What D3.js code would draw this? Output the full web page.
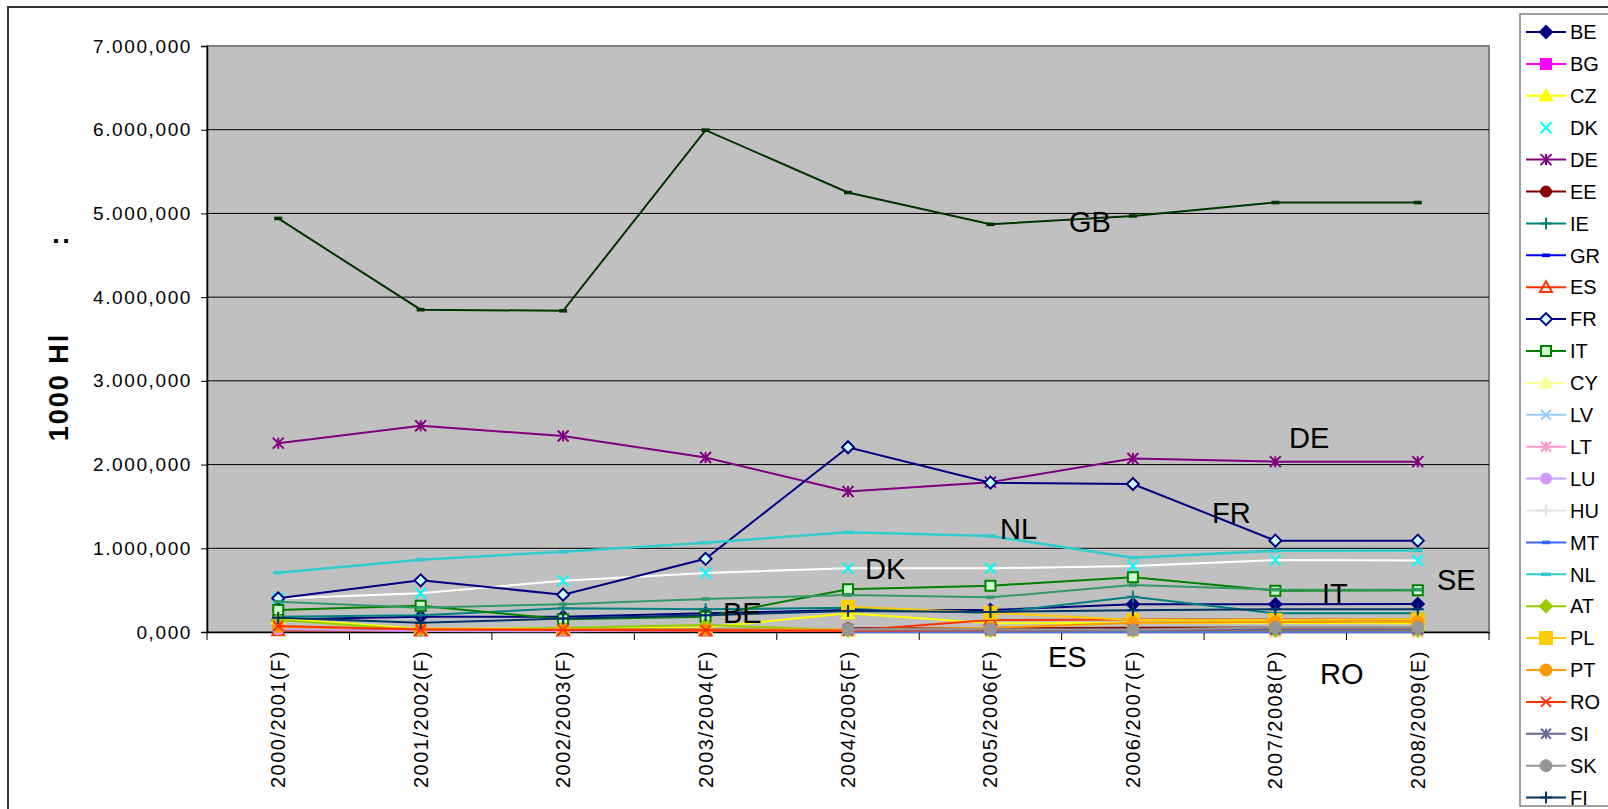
<!DOCTYPE html>
<html lang="en">
<head>
<meta charset="utf-8">
<script src="https://d3js.org/d3.v7.min.js"></script>
<style>
	body { margin: 0; background: #fff; }
	text { font-family: Arial, "Liberation Sans", sans-serif; }
</style>
</head>
<body>
<script type="text/javascript">

	// x categories (marketing years) and y ticks, in 1000 hl
	var categories = ["2000/2001(F)", "2001/2002(F)", "2002/2003(F)", "2003/2004(F)", "2004/2005(F)",
		"2005/2006(F)", "2006/2007(F)", "2007/2008(P)", "2008/2009(E)"];
	var yTicks = [0, 1000, 2000, 3000, 4000, 5000, 6000, 7000];

	// series values (null = no value)
	var BE = [150, 183, 183, 223, 263, 263, 331, 331, 335];
	var BG = [null, null, null, null, null, null, null, 10, 10];
	var CZ = [160, 40, 45, 55, 223, 104, 111, 111, 104];
	var DK = [400, 462, 613, 705, 761, 761, 788, 860, 855];
	var DE = [2256, 2464, 2342, 2084, 1678, 1790, 2072, 2035, 2035];
	var EE = [null, null, null, null, 44, 44, 50, 55, 55];
	var IE = [183, 200, 283, 271, 290, 223, 422, 223, 223];
	var GR = [25, 20, 30, 30, 20, 20, 20, 20, 20];
	var ES = [20, 15, 15, 15, 15, 143, 150, 150, 150];
	var FR = [402, 617, 446, 874, 2207, 1784, 1768, 1091, 1091];
	var IT = [263, 315, 151, 183, 510, 553, 653, 494, 500];
	var CY = [null, null, null, null, 5, 5, 5, 5, 5];
	var LV = [null, null, null, null, 8, 8, 8, 8, 8];
	var LT = [null, null, null, null, 10, 10, 10, 10, 10];
	var LU = [32, 12, 8, 20, 15, 15, 15, 15, 15];
	var HU = [null, null, null, null, 12, 12, 12, 12, 12];
	var MT = [null, null, null, null, 3, 3, 3, 3, 3];
	var NL = [708, 864, 959, 1067, 1191, 1147, 888, 971, 975];
	var AT = [143, 24, 50, 84, 20, 20, 20, 20, 20];
	var PL = [null, null, null, null, 302, 231, 143, 143, 151];
	var PT = [60, 40, 32, 30, 30, 50, 110, 120, 123];
	var RO = [72, 30, 25, 20, 15, 20, 25, 30, 30];
	var SI = [null, null, null, null, 32, 30, 30, 30, 30];
	var SK = [null, null, null, null, 30, 32, 26, 56, 56];
	var FI = [170, 110, 160, 200, 250, 240, 260, 271, 271];
	var SE = [362, 290, 331, 394, 442, 414, 561, 505, 505];
	var GB = [4940, 3850, 3837, 5995, 5250, 4870, 4970, 5130, 5130];

	var seriesNames = ["BE", "BG", "CZ", "DK", "DE", "EE", "IE", "GR", "ES", "FR", "IT", "CY", "LV", "LT",
		"LU", "HU", "MT", "NL", "AT", "PL", "PT", "RO", "SI", "SK", "FI", "SE", "GB"];
	var seriesValues = {BE: BE, BG: BG, CZ: CZ, DK: DK, DE: DE, EE: EE, IE: IE, GR: GR, ES: ES, FR: FR,
		IT: IT, CY: CY, LV: LV, LT: LT, LU: LU, HU: HU, MT: MT, NL: NL, AT: AT, PL: PL, PT: PT, RO: RO,
		SI: SI, SK: SK, FI: FI, SE: SE, GB: GB};

	// labels written inside the plot
	var labelNames = ["GB", "DE", "NL", "FR", "DK", "BE", "IT", "SE", "ES", "RO"];

	// styles (excel default palette)
	var styles = {
		BE: {line: "#000080", marker: "diamond", fill: "#000080", size: 6},
		BG: {line: "#FF00FF", marker: "square", fill: "#FF00FF", size: 5},
		CZ: {line: "#FFFF00", marker: "triangle", fill: "#FFFF00", size: 6},
		DK: {line: "#FFFFFF", marker: "x", fill: "none", stroke: "#00FFFF", size: 5.5, legendLine: "none"},
		DE: {line: "#800080", marker: "star", fill: "none", size: 5.5},
		EE: {line: "#800000", marker: "circle", fill: "#800000", size: 5.5},
		IE: {line: "#008080", marker: "plus", fill: "none", size: 6},
		GR: {line: "#0000FF", marker: "dash", fill: "#0000FF", size: 4},
		ES: {line: "#FF3300", marker: "triangle", fill: "none", size: 6},
		FR: {line: "#000080", marker: "diamond", fill: "#CCFFFF", size: 6},
		IT: {line: "#008000", marker: "square", fill: "#CCFFCC", size: 5},
		CY: {line: "#FFFF99", marker: "triangle", fill: "#FFFF99", size: 6},
		LV: {line: "#99CCFF", marker: "x", fill: "none", size: 5},
		LT: {line: "#FF99CC", marker: "star", fill: "none", size: 5},
		LU: {line: "#CC99FF", marker: "circle", fill: "#CC99FF", size: 5.5},
		HU: {line: "#E3E3E3", marker: "plus", fill: "none", size: 6},
		MT: {line: "#3366FF", marker: "dash", fill: "#3366FF", size: 4},
		NL: {line: "#33CCCC", marker: "dash", fill: "#33CCCC", size: 5},
		AT: {line: "#99CC00", marker: "diamond", fill: "#99CC00", size: 6},
		PL: {line: "#FFCC00", marker: "square", fill: "#FFCC00", size: 6},
		PT: {line: "#FF9900", marker: "circle", fill: "#FF9900", size: 6},
		RO: {line: "#FF3300", marker: "x", fill: "none", size: 5},
		SI: {line: "#666699", marker: "star", fill: "none", size: 5},
		SK: {line: "#969696", marker: "circle", fill: "#969696", size: 6},
		FI: {line: "#003366", marker: "plus", fill: "none", size: 6},
		SE: {line: "#339966", marker: "dash", fill: "#339966", size: 4},
		GB: {line: "#003300", marker: "dash", fill: "#003300", size: 4}
	};

	var labelPos = {
		GB: [1069, 232], DE: [1289, 448], NL: [1000, 539], FR: [1212, 523], DK: [865, 579],
		BE: [723, 623], IT: [1322, 604], SE: [1437, 590], ES: [1048, 667], RO: [1320, 684]
	};

	var svgWidth = 1608, svgHeight = 809;
	var plot = {left: 207, top: 46, right: 1489, bottom: 632};

	var svg = d3.select("body").append("svg")
		.attr("width", svgWidth)
		.attr("height", svgHeight);

	// chart area border
	svg.append("rect")
		.attr("x", 8).attr("y", 7)
		.attr("width", 1700).attr("height", 900)
		.attr("fill", "#fff")
		.attr("stroke", "#333").attr("stroke-width", 2);

	var x = d3.scaleBand()
		.domain(categories)
		.range([plot.left, plot.right])
		.padding(0);
	var xc = function(i) { return x(categories[i]) + x.bandwidth() / 2; };

	var y = d3.scaleLinear()
		.domain([0, 7000])
		.range([plot.bottom, plot.top]);

	// plot area
	svg.append("rect")
		.attr("x", plot.left).attr("y", plot.top)
		.attr("width", plot.right - plot.left).attr("height", plot.bottom - plot.top)
		.attr("fill", "#C0C0C0")
		.attr("stroke", "#808080").attr("stroke-width", 2);

	svg.selectAll("line.grid")
		.data(yTicks.slice(1, -1))
		.enter().append("line")
			.attr("class", "grid")
			.attr("x1", plot.left).attr("x2", plot.right)
			.attr("y1", function(d) { return y(d); })
			.attr("y2", function(d) { return y(d); })
			.attr("stroke", "#000").attr("stroke-width", 1);

	// y axis
	var locale = d3.formatLocale({decimal: ",", thousands: ".", grouping: [3], currency: ["", ""]});
	var yFormat = locale.format(",.3f");
	var yAxis = d3.axisLeft(y).tickValues(yTicks).tickSize(6).tickPadding(9).tickFormat(yFormat);
	var yg = svg.append("g")
		.attr("transform", "translate(" + plot.left + ",0)")
		.call(yAxis);
	yg.select(".domain").attr("stroke", "#000").attr("stroke-width", 1.5);
	yg.selectAll("text")
		.attr("fill", "#000")
		.style("font-size", "19px")
		.style("letter-spacing", "1.6px");

	// x axis: labels at centers, ticks at boundaries
	var xAxis = d3.axisBottom(x).tickSize(0).tickPadding(0);
	var xg = svg.append("g")
		.attr("transform", "translate(0," + plot.bottom + ")")
		.call(xAxis);
	xg.select(".domain").attr("stroke", "#000").attr("stroke-width", 1.5);
	xg.selectAll("text")
		.attr("fill", "#000")
		.style("font-size", "20px")
		.style("letter-spacing", "1.5px")
		.style("text-anchor", "end")
		.attr("x", -18)
		.attr("y", 0)
		.attr("dy", "0.35em")
		.attr("transform", "rotate(-90)");

	var bounds = categories.map(function(c) { return x(c); }).concat([plot.right]);
	svg.selectAll("line.xtick")
		.data(bounds)
		.enter().append("line")
			.attr("class", "xtick")
			.attr("x1", function(d) { return d; }).attr("x2", function(d) { return d; })
			.attr("y1", plot.bottom).attr("y2", plot.bottom + 8)
			.attr("stroke", "#000");

	// y title
	svg.append("text")
		.attr("transform", "translate(68,387) rotate(-90)")
		.attr("text-anchor", "middle")
		.style("font-size", "27px")
		.style("font-weight", "bold")
		.style("letter-spacing", "2px")
		.text("1000 Hl");
	svg.append("text")
		.attr("transform", "translate(68,241) rotate(-90)")
		.attr("text-anchor", "middle")
		.style("font-size", "27px")
		.style("font-weight", "bold")
		.text(":");

	// markers
	function markerPath(type, s) {
		if (type == "diamond") return "M0," + (-s) + "L" + s + ",0L0," + s + "L" + (-s) + ",0Z";
		if (type == "square") return "M" + (-s) + "," + (-s) + "h" + (2 * s) + "v" + (2 * s) + "h" + (-2 * s) + "Z";
		if (type == "triangle") return "M0," + (-s) + "L" + s + "," + (s * 0.8) + "L" + (-s) + "," + (s * 0.8) + "Z";
		if (type == "x") return "M" + (-s) + "," + (-s) + "L" + s + "," + s + "M" + s + "," + (-s) + "L" + (-s) + "," + s;
		if (type == "star") return "M" + (-s) + "," + (-s) + "L" + s + "," + s + "M" + s + "," + (-s) + "L" + (-s) + "," + s + "M0," + (-s) + "V" + s;
		if (type == "plus") return "M" + (-s) + ",0H" + s + "M0," + (-s) + "V" + s;
		if (type == "dash") return "M" + (-s) + "," + (-1.8) + "h" + (2 * s) + "v3.6h" + (-2 * s) + "Z";
		return "";
	}

	function drawMarker(g, name) {
		var st = styles[name];
		var col = st.stroke || st.line;
		if (st.marker == "circle") {
			g.append("circle").attr("r", st.size).attr("fill", st.fill).attr("stroke", col).attr("stroke-width", 1);
		} else {
			var lineOnly = (st.marker == "x" || st.marker == "star" || st.marker == "plus");
			g.append("path")
				.attr("d", markerPath(st.marker, st.size))
				.attr("fill", lineOnly ? "none" : st.fill)
				.attr("stroke", col)
				.attr("stroke-width", (st.marker == "dash") ? 0 : 2);
		}
	}

	var line = d3.line()
		.defined(function(d) { return d != null; })
		.x(function(d, i) { return xc(i); })
		.y(function(d) { return y(d); });

	seriesNames.forEach(function(name) {
		var vals = seriesValues[name];
		var st = styles[name];
		var g = svg.append("g").attr("class", "series-" + name);
		g.append("path")
			.attr("d", line(vals))
			.attr("fill", "none")
			.attr("stroke", st.line)
			.attr("stroke-width", name == "NL" ? 2.5 : 2);
		vals.forEach(function(v, i) {
			if (v == null) return;
			var mg = g.append("g").attr("transform", "translate(" + xc(i) + "," + y(v) + ")");
			drawMarker(mg, name);
		});
	});

	// labels inside plot
	svg.selectAll("text.lab")
		.data(labelNames)
		.enter().append("text")
			.attr("class", "lab")
			.attr("x", function(d) { return labelPos[d][0]; })
			.attr("y", function(d) { return labelPos[d][1]; })
			.style("font-size", "29px")
			.attr("fill", "#000")
			.text(function(d) { return d; });

	// legend (clipped like the original, last rows fall off the box)
	var legTop = 14, legBottom = 806, legLeft = 1520;
	svg.append("clipPath").attr("id", "legclip")
		.append("rect").attr("x", legLeft).attr("y", legTop).attr("width", 200).attr("height", legBottom - legTop);
	svg.append("rect")
		.attr("x", legLeft).attr("y", legTop)
		.attr("width", 200).attr("height", legBottom - legTop)
		.attr("fill", "#fff")
		.attr("stroke", "#808080").attr("stroke-width", 1.5);

	var legend = svg.append("g").attr("clip-path", "url(#legclip)");
	var legItems = legend.selectAll("g.leg")
		.data(seriesNames)
		.enter().append("g")
			.attr("class", "leg")
			.attr("transform", function(d, i) { return "translate(" + legLeft + "," + (32 + i * 31.9) + ")"; });

	legItems.append("line")
		.attr("x1", 6).attr("x2", 46)
		.attr("y1", 0).attr("y2", 0)
		.attr("stroke", function(d) { return styles[d].legendLine || styles[d].line; })
		.attr("stroke-width", 2);
	legItems.each(function(d) {
		var mg = d3.select(this).append("g").attr("transform", "translate(26,0)");
		drawMarker(mg, d);
	});
	legItems.append("text")
		.attr("x", 50)
		.attr("y", 0)
		.attr("dy", "0.36em")
		.style("font-size", "20px")
		.attr("fill", "#000")
		.text(function(d) { return d; });

</script>
</body>
</html>
